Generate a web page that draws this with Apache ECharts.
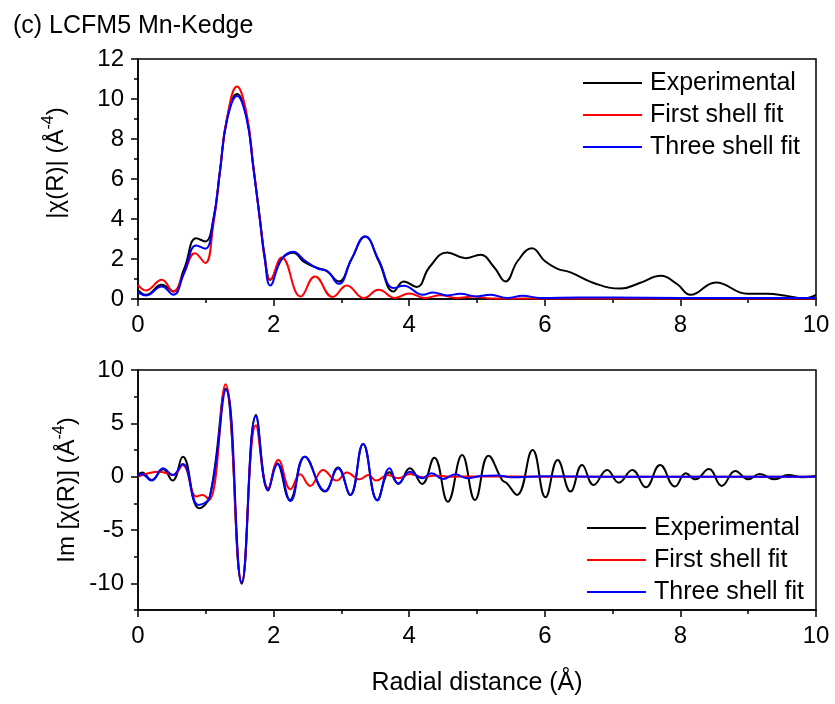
<!DOCTYPE html>
<html>
<head>
<meta charset="utf-8">
<script src="https://cdn.jsdelivr.net/npm/echarts@6/dist/echarts.min.js"></script>
<style>
  html, body { margin: 0; padding: 0; background: #fff; }
  #chart { width: 835px; height: 704px; }
</style>
</head>
<body>
<div id="chart"></div>
<script>
// |chi(R)| magnitude, Mn K-edge (R in Å)
const magExpR = [0, 0.12, 0.35, 0.52, 0.68, 0.86, 0.99, 1.11, 1.21, 1.31, 1.46, 1.60, 1.70, 1.80, 1.87, 1.95, 2.12, 2.29, 2.45, 2.65, 2.79, 2.96, 3.15, 3.35, 3.55, 3.77, 3.92, 4.11, 4.30, 4.56, 4.83, 5.05, 5.25, 5.42, 5.60, 5.81, 6.00, 6.18, 6.38, 6.72, 7.12, 7.40, 7.71, 7.95, 8.15, 8.52, 8.99, 9.28, 9.53, 9.82, 10.0];
const magExpV = [0.46, 0.21, 0.71, 0.38, 1.5, 3.04, 2.88, 3.96, 6.45, 8.96, 10.25, 9.12, 6.62, 3.96, 2.13, 0.96, 2.0, 2.31, 1.85, 1.55, 1.38, 0.88, 2.0, 3.12, 1.9, 0.38, 0.88, 0.60, 1.6, 2.33, 2.04, 2.21, 1.6, 0.88, 1.9, 2.54, 1.9, 1.52, 1.33, 0.80, 0.52, 0.8, 1.16, 0.75, 0.21, 0.83, 0.26, 0.26, 0.18, 0.03, 0.21];

const magFirstR = [0, 0.12, 0.35, 0.52, 0.68, 0.84, 0.99, 1.11, 1.21, 1.31, 1.46, 1.60, 1.70, 1.80, 1.87, 1.95, 2.12, 2.40, 2.61, 2.87, 3.08, 3.33, 3.55, 3.79, 4.00, 4.23, 4.46, 4.71, 4.95, 5.2, 6.0, 7.0, 8.0, 9.0, 10.0];
const magFirstV = [0.71, 0.43, 0.96, 0.38, 1.3, 2.29, 1.80, 3.7, 6.4, 9.0, 10.62, 9.3, 6.7, 3.9, 2.0, 0.96, 2.08, 0.13, 1.13, 0.10, 0.68, 0.05, 0.46, 0.05, 0.28, 0.05, 0.19, 0.05, 0.13, 0.03, 0.02, 0.02, 0.02, 0.02, 0.02];

const magThreeR = [0, 0.12, 0.35, 0.52, 0.68, 0.86, 0.99, 1.11, 1.21, 1.31, 1.46, 1.60, 1.70, 1.80, 1.87, 1.95, 2.12, 2.29, 2.45, 2.65, 2.79, 2.96, 3.15, 3.35, 3.55, 3.77, 3.92, 4.20, 4.35, 4.56, 4.75, 5.00, 5.20, 5.45, 5.67, 5.94, 6.5, 7.5, 8.5, 9.5, 10.0];
const magThreeV = [0.33, 0.18, 0.63, 0.21, 1.3, 2.68, 2.51, 3.9, 6.4, 8.9, 10.15, 9.05, 6.6, 3.9, 2.0, 0.68, 2.0, 2.36, 1.95, 1.52, 1.40, 0.76, 2.0, 3.12, 1.95, 0.55, 0.66, 0.21, 0.33, 0.18, 0.26, 0.13, 0.21, 0.05, 0.16, 0.05, 0.08, 0.06, 0.05, 0.05, 0.05];

// Im[chi(R)]
const imExpR = [0, 0.06, 0.20, 0.37, 0.51, 0.66, 0.90, 1.06, 1.29, 1.53, 1.74, 1.92, 2.05, 2.24, 2.46, 2.76, 2.95, 3.13, 3.32, 3.53, 3.71, 3.84, 4.01, 4.19, 4.37, 4.57, 4.78, 4.97, 5.17, 5.37, 5.44, 5.59, 5.82, 6.01, 6.19, 6.38, 6.55, 6.72, 6.92, 7.09, 7.29, 7.49, 7.70, 7.92, 8.08, 8.22, 8.42, 8.61, 8.81, 9.00, 9.17, 9.39, 9.59, 9.79, 10.0];
const imExpV = [0.16, 0.38, -0.31, 0.69, -0.37, 1.87, -2.96, -1.86, 8.26, -10.03, 5.77, -1.30, 1.25, -2.18, 1.87, -1.40, 0.87, -1.71, 3.06, -2.18, 0.42, -0.68, 0.78, -0.68, 1.78, -2.34, 2.03, -2.18, 1.97, -0.31, -0.62, -1.71, 2.50, -1.93, 1.56, -1.40, 1.09, -0.78, 0.63, -0.56, 0.63, -1.00, 1.09, -0.93, 0.31, -0.25, 0.72, -0.87, 0.53, -0.25, 0.25, -0.25, 0.16, -0.05, 0.06];

const imFirstR = [0, 0.32, 0.52, 0.66, 0.86, 0.95, 1.05, 1.29, 1.53, 1.74, 1.92, 2.07, 2.25, 2.39, 2.54, 2.73, 2.93, 3.08, 3.27, 3.40, 3.51, 3.69, 3.84, 4.01, 4.21, 4.38, 4.6, 5.0, 6.0, 7.0, 8.0, 9.0, 10.0];
const imFirstV = [0.0, 0.47, 0.16, 1.09, -1.86, -1.71, -2.18, 8.66, -9.90, 4.83, -1.08, 1.56, -1.18, 0.22, -0.87, 0.63, -0.37, 0.38, -0.25, 0.16, -0.37, 0.16, -0.15, 0.25, -0.06, 0.12, 0.0, 0.02, 0.0, 0.0, 0.0, 0.0, 0.0];

const imThreeR = [0, 0.05, 0.20, 0.37, 0.51, 0.66, 0.89, 1.06, 1.30, 1.53, 1.74, 1.92, 2.06, 2.25, 2.46, 2.76, 2.95, 3.13, 3.32, 3.53, 3.71, 3.84, 4.01, 4.19, 4.33, 4.50, 4.68, 4.85, 5.05, 5.30, 5.5, 6.0, 7.0, 8.0, 9.0, 10.0];
const imThreeV = [0.06, 0.25, -0.37, 0.78, 0.16, 1.19, -2.65, -1.86, 8.17, -9.90, 5.67, -1.24, 1.19, -2.28, 1.87, -1.34, 0.78, -1.71, 3.06, -2.24, 0.78, -0.62, 0.47, -0.15, 0.31, -0.22, 0.22, -0.15, 0.06, 0.12, -0.05, 0.05, 0.0, 0.0, 0.0, 0.0];

const seriesNames = ['Experimental', 'First shell fit', 'Three shell fit'];
const seriesColors = ['#000000', '#ff0000', '#0000ff'];
const imMajorTicks = [-10, -5, 0, 5, 10];
const imMinorTicks = [-12.5, -7.5, -2.5, 2.5, 7.5];

const zip = (r, v) => r.map((x, i) => [x, v[i]]);
const FONT = 'Liberation Sans, Arial, sans-serif';

const chart = echarts.init(document.getElementById('chart'), null, { renderer: 'canvas' });

const axisLine = { show: true, onZero: false, lineStyle: { color: '#000', width: 1.5 } };
const labelStyle = { color: '#000', fontSize: 24, fontFamily: FONT };

function xAxisFor(gridIndex) {
  return {
    type: 'value', gridIndex, min: 0, max: 10, interval: 2,
    axisLine, splitLine: { show: false },
    axisTick: { show: true, inside: false, length: 7, lineStyle: { color: '#000', width: 1.5 } },
    minorTick: { show: true, splitNumber: 2, length: 4, lineStyle: { color: '#000', width: 1.5 } },
    minorSplitLine: { show: false },
    axisLabel: Object.assign({ margin: 14 }, labelStyle)
  };
}

function lineSeries(name, color, data, xi, yi) {
  return {
    type: 'line', name, data, xAxisIndex: xi, yAxisIndex: yi,
    smooth: 0.45, symbol: 'none', showSymbol: false,
    lineStyle: { color, width: 2 }, itemStyle: { color },
    animation: false, clip: true
  };
}

// plain line sample in the legend, no marker
function legendAt(left, top) {
  return {
    data: seriesNames, orient: 'vertical', left, top, padding: 0,
    icon: 'path://M0,0L60,0L60,2L0,2Z',
    itemWidth: 59, itemHeight: 2, itemGap: 6,
    selectedMode: false,
    textStyle: { color: '#000', fontSize: 25, fontFamily: FONT, lineHeight: 26, padding: [0, 0, 0, 3] }
  };
}

const option = {
  backgroundColor: '#fff',
  animation: false,
  textStyle: { fontFamily: FONT },
  grid: [
    { left: 138, right: 19, top: 59, height: 240, show: true, borderColor: '#000', borderWidth: 1.5, backgroundColor: 'transparent' },
    { left: 138, right: 19, top: 370, height: 240, show: true, borderColor: '#000', borderWidth: 1.5, backgroundColor: 'transparent' }
  ],
  xAxis: [xAxisFor(0), xAxisFor(1)],
  yAxis: [
    {
      type: 'value', gridIndex: 0, min: 0, max: 12, interval: 2,
      axisLine, splitLine: { show: false },
      axisTick: { show: true, length: 7, lineStyle: { color: '#000', width: 1.5 } },
      minorTick: { show: true, splitNumber: 2, length: 4, lineStyle: { color: '#000', width: 1.5 } },
      minorSplitLine: { show: false },
      axisLabel: Object.assign({ margin: 14 }, labelStyle)
    },
    {
      type: 'value', gridIndex: 1, min: -12.5, max: 10,
      axisLine, splitLine: { show: false },
      axisTick: { show: true, length: 7, customValues: imMajorTicks, lineStyle: { color: '#000', width: 1.5 } },
      axisLabel: Object.assign({ margin: 14, customValues: imMajorTicks }, labelStyle)
    },
    {
      type: 'value', gridIndex: 1, min: -12.5, max: 10, offset: 0, position: 'left',
      axisLine: { show: false }, splitLine: { show: false },
      axisTick: { show: true, length: 4, customValues: imMinorTicks, lineStyle: { color: '#000', width: 1.5 } },
      axisLabel: { show: false, customValues: imMinorTicks }
    }
  ],
  legend: [legendAt(583, 70), legendAt(587, 515)],
  series: [
    lineSeries(seriesNames[0], seriesColors[0], zip(magExpR, magExpV), 0, 0),
    lineSeries(seriesNames[1], seriesColors[1], zip(magFirstR, magFirstV), 0, 0),
    lineSeries(seriesNames[2], seriesColors[2], zip(magThreeR, magThreeV), 0, 0),
    lineSeries(seriesNames[0], seriesColors[0], zip(imExpR, imExpV), 1, 1),
    lineSeries(seriesNames[1], seriesColors[1], zip(imFirstR, imFirstV), 1, 1),
    lineSeries(seriesNames[2], seriesColors[2], zip(imThreeR, imThreeV), 1, 1)
  ],
  graphic: [
    {
      type: 'text', left: 13, top: 14,
      style: { text: '(c) LCFM5 Mn-Kedge', fontSize: 25, fontFamily: FONT, fill: '#000' }
    },
    {
      type: 'text', x: 56, y: 163, rotation: Math.PI / 2,
      style: {
        text: '{n||χ(R)| (Å}{s|-4}{n|)}', align: 'center', verticalAlign: 'middle',
        fill: '#000', fontFamily: FONT,
        rich: {
          n: { fontSize: 24, fontFamily: FONT, fill: '#000', lineHeight: 30 },
          s: { fontSize: 16, fontFamily: FONT, fill: '#000', verticalAlign: 'top', lineHeight: 30 }
        }
      }
    },
    {
      type: 'text', x: 67, y: 490, rotation: Math.PI / 2,
      style: {
        text: '{n|Im [χ(R)] (Å}{s|-4}{n|)}', align: 'center', verticalAlign: 'middle',
        fill: '#000', fontFamily: FONT,
        rich: {
          n: { fontSize: 24, fontFamily: FONT, fill: '#000', lineHeight: 30 },
          s: { fontSize: 16, fontFamily: FONT, fill: '#000', verticalAlign: 'top', lineHeight: 30 }
        }
      }
    },
    {
      type: 'text', x: 477, y: 683,
      style: { text: 'Radial distance (Å)', fontSize: 25, fontFamily: FONT, fill: '#000', align: 'center', verticalAlign: 'middle' }
    }
  ]
};

chart.setOption(option);
</script>
</body>
</html>
